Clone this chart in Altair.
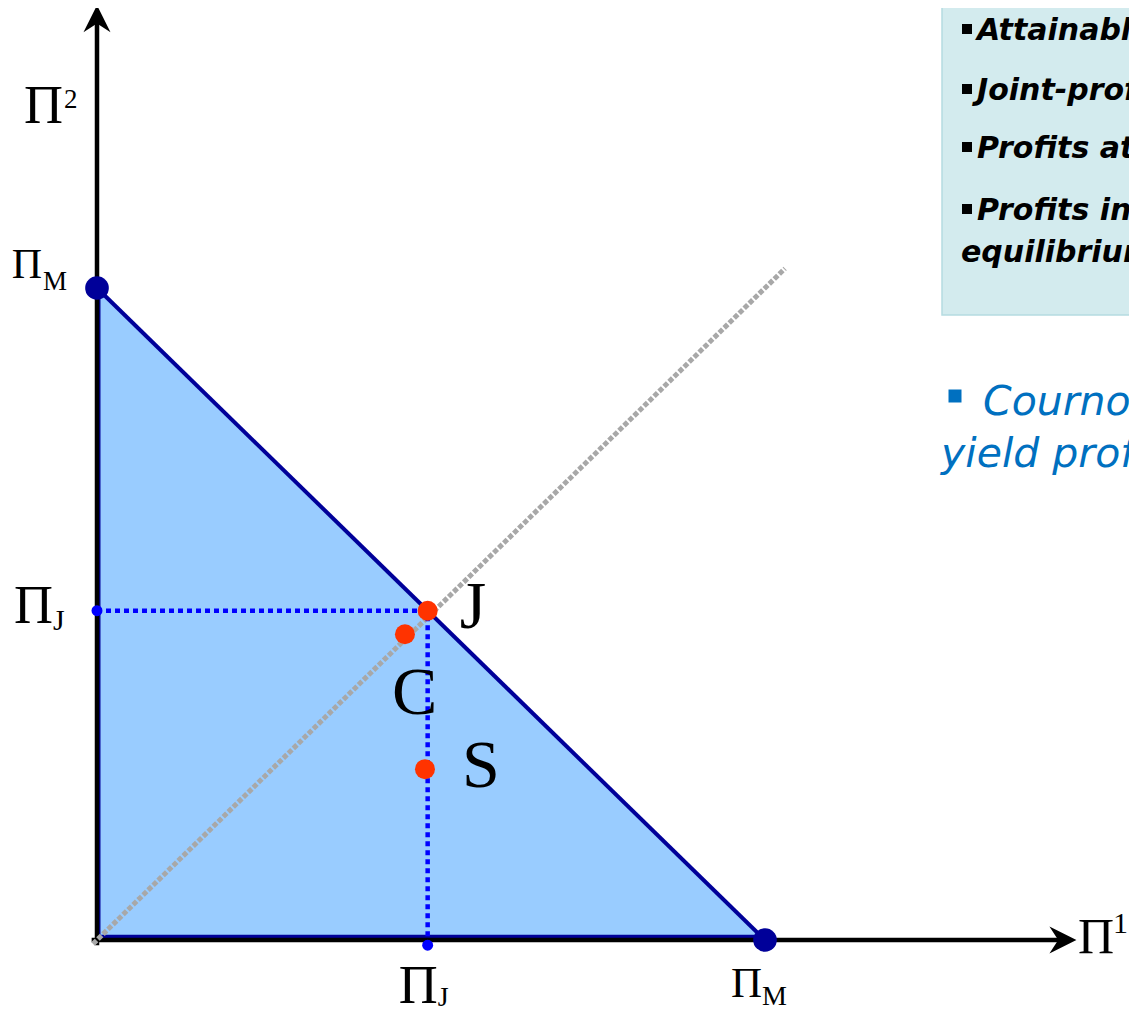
import altair as alt
import pandas as pd

# ---------------- data (profit units, monopoly profit = 1) ----------------
PI_M = 1.0
frontier_x = [0.0, 1.0]
frontier_y = [1.0, 0.0]
eq_names = ["J", "C", "S"]
eq_x = [0.495, 0.461, 0.491]
eq_y = [0.505, 0.469, 0.262]
diag_vals = [-0.006, 1.03]
axis_y_end = 1.413
axis_x_end = 1.446
axis_start = -0.008

box_lines = ["Attainable profits", "Joint-profit maximization",
             "Profits at Stackelberg equilibrium", "Profits in Cournot"]
box_last = "equilibrium"
cournot_lines = ["Cournot and Stackelberg", "yield profits inside the frontier"]

# ---------------- scales ----------------
W, H = 1121, 1000
XD = [-0.13323, -0.13323 + W / 668.0]
YD = [1.42945 - H / 652.0, 1.42945]


def X(f="x"):
    return alt.X(f, type="quantitative", scale=alt.Scale(domain=XD, nice=False, zero=False), axis=None)


def Y(f="y"):
    return alt.Y(f, type="quantitative", scale=alt.Scale(domain=YD, nice=False, zero=False), axis=None)


def X2(f="x2"):
    return alt.X2(f)


def Y2(f="y2"):
    return alt.Y2(f)


NAVY = "#000099"
BLUE = "#0000FF"
RED = "#FF3300"
one = pd.DataFrame({"d": [0]})

layers = []

# filled feasible region
tri = pd.DataFrame({"x": frontier_x, "y": frontier_y, "y2": [0.0, 0.0]})
layers.append(alt.Chart(tri).mark_area(color="#99CCFF", opacity=1).encode(x=X(), y=Y(), y2=Y2()))

# navy frontier outline
layers.append(alt.Chart(pd.DataFrame({"x": frontier_x, "y": frontier_y})).mark_line(
    color=NAVY, strokeWidth=4).encode(x=X(), y=Y()))
layers.append(alt.Chart(pd.DataFrame({"x": [0.0], "y": [0.0], "y2": [PI_M]})).mark_rule(
    color=NAVY, strokeWidth=3, xOffset=2).encode(x=X(), y=Y(), y2=Y2()))
layers.append(alt.Chart(pd.DataFrame({"x": [0.0], "x2": [PI_M], "y": [0.0]})).mark_rule(
    color=NAVY, strokeWidth=3.5, yOffset=-3.5).encode(x=X(), x2=X2(), y=Y()))

# black axes
layers.append(alt.Chart(pd.DataFrame({"x": [0.0], "y": [axis_start], "y2": [axis_y_end]})).mark_rule(
    color="black", strokeWidth=4.5).encode(x=X(), y=Y(), y2=Y2()))
layers.append(alt.Chart(pd.DataFrame({"x": [axis_start], "x2": [axis_x_end], "y": [0.0]})).mark_rule(
    color="black", strokeWidth=4.5).encode(x=X(), x2=X2(), y=Y()))
layers.append(alt.Chart(pd.DataFrame({"x": [0.0], "y": [axis_y_end]})).mark_point(
    shape="M0,-1L1,1L0,0.35L-1,1Z", size=729, filled=True, color="black", opacity=1, strokeWidth=0
).encode(x=X(), y=Y()))
layers.append(alt.Chart(pd.DataFrame({"x": [axis_x_end], "y": [0.0]})).mark_point(
    shape="M1,0L-1,-1L-0.35,0L-1,1Z", size=729, filled=True, color="black", opacity=1, strokeWidth=0
).encode(x=X(), y=Y()))

# grey 45-degree line
layers.append(alt.Chart(pd.DataFrame({"x": diag_vals, "y": diag_vals})).mark_line(
    color="#A8A8A8", strokeWidth=5, strokeDash=[5, 2]).encode(x=X(), y=Y()))

# blue dotted lines to J
layers.append(alt.Chart(pd.DataFrame({"x": [0.0], "x2": [eq_x[0]], "y": [eq_y[0]]})).mark_rule(
    color=BLUE, strokeWidth=4.5, strokeDash=[5, 4]).encode(x=X(), x2=X2(), y=Y()))
layers.append(alt.Chart(pd.DataFrame({"x": [eq_x[0]], "y": [axis_start], "y2": [eq_y[0]]})).mark_rule(
    color=BLUE, strokeWidth=4.5, strokeDash=[5, 4]).encode(x=X(), y=Y(), y2=Y2()))
layers.append(alt.Chart(pd.DataFrame({"x": [0.0, eq_x[0]], "y": [eq_y[0], axis_start]})).mark_point(
    shape="circle", size=120, filled=True, color=BLUE, opacity=1).encode(x=X(), y=Y()))

# monopoly points
layers.append(alt.Chart(pd.DataFrame({"x": [0.0, PI_M], "y": [PI_M, 0.0]})).mark_point(
    shape="circle", size=560, filled=True, color=NAVY, opacity=1).encode(x=X(), y=Y()))

# equilibrium points
eq = pd.DataFrame({"n": eq_names, "x": eq_x, "y": eq_y})
layers.append(alt.Chart(eq).mark_point(
    shape="circle", size=400, filled=True, color=RED, opacity=1).encode(x=X(), y=Y()))


# ---------------- labels ----------------
def lab(text, x, y, size, dx, dy, align="left", font="Liberation Serif"):
    return alt.Chart(pd.DataFrame({"x": [x], "y": [y], "t": [text]})).mark_text(
        font=font, fontSize=size, dx=dx, dy=dy, align=align, baseline="alphabetic", color="black"
    ).encode(x=X(), y=Y(), text="t:N")


# axis titles
layers.append(lab("Π", 0.0, axis_y_end, 54, -34, 104.5, "right"))
layers.append(lab("2", 0.0, axis_y_end, 27, -33, 89.5))
layers.append(lab("Π", axis_x_end, 0.0, 50, 15, 13))
layers.append(lab("1", axis_x_end, 0.0, 30, 50, -7))
# y tick labels
layers.append(lab("Π", 0.0, PI_M, 42, -55, -10, "right"))
layers.append(lab("M", 0.0, PI_M, 27, -54, 2))
layers.append(lab("Π", 0.0, eq_y[0], 54, -44, 12, "right"))
layers.append(lab("J", 0.0, eq_y[0], 30, -44, 19))
# x tick labels
layers.append(lab("Π", eq_x[0], 0.0, 54, 10, 63, "right"))
layers.append(lab("J", eq_x[0], 0.0, 28, 10, 66))
layers.append(lab("Π", PI_M, 0.0, 43, -3, 57, "right"))
layers.append(lab("M", PI_M, 0.0, 28, -3, 65))
# point letters
layers.append(lab(eq_names[0], eq_x[0], eq_y[0], 68, 32, 17))
layers.append(lab(eq_names[1], eq_x[1], eq_y[1], 68, -13, 80))
layers.append(lab(eq_names[2], eq_x[2], eq_y[2], 68, 37, 18))

# ---------------- side panel (annotation) ----------------
layers.append(alt.Chart(one).mark_rect(fill="#D3EBEE", stroke="#B5DCE1", strokeWidth=1.5).encode(
    x=alt.value(934), x2=alt.value(1150), y=alt.value(-10), y2=alt.value(307)))

box_base = [32, 92, 150, 212]
for txt, b in zip(box_lines, box_base):
    layers.append(alt.Chart(one).mark_point(
        shape="square", size=100, filled=True, color="black", opacity=1, strokeWidth=0
    ).encode(x=alt.value(959), y=alt.value(b - 11)))
    layers.append(alt.Chart(one).mark_text(
        text=txt, font="DejaVu Sans", fontSize=30, fontWeight="bold", fontStyle="italic",
        align="left", baseline="alphabetic", color="black"
    ).encode(x=alt.value(969), y=alt.value(b)))
layers.append(alt.Chart(one).mark_text(
    text=box_last, font="DejaVu Sans", fontSize=30, fontWeight="bold", fontStyle="italic",
    align="left", baseline="alphabetic", color="black"
).encode(x=alt.value(953), y=alt.value(254)))

layers.append(alt.Chart(one).mark_point(
    shape="square", size=169, filled=True, color="#0070C0", opacity=1, strokeWidth=0
).encode(x=alt.value(947), y=alt.value(388)))
layers.append(alt.Chart(one).mark_text(
    text=cournot_lines[0], font="DejaVu Sans", fontSize=41, fontStyle="italic",
    align="left", baseline="alphabetic", color="#0070C0"
).encode(x=alt.value(975), y=alt.value(407)))
layers.append(alt.Chart(one).mark_text(
    text=cournot_lines[1], font="DejaVu Sans", fontSize=41, fontStyle="italic",
    align="left", baseline="alphabetic", color="#0070C0"
).encode(x=alt.value(933), y=alt.value(459)))

chart = alt.layer(*layers).properties(
    width=W, height=H, padding=0, autosize="none", background="white"
).configure_view(stroke=None)

chart.save("out.html", embed_options={"renderer": "svg", "actions": False})
